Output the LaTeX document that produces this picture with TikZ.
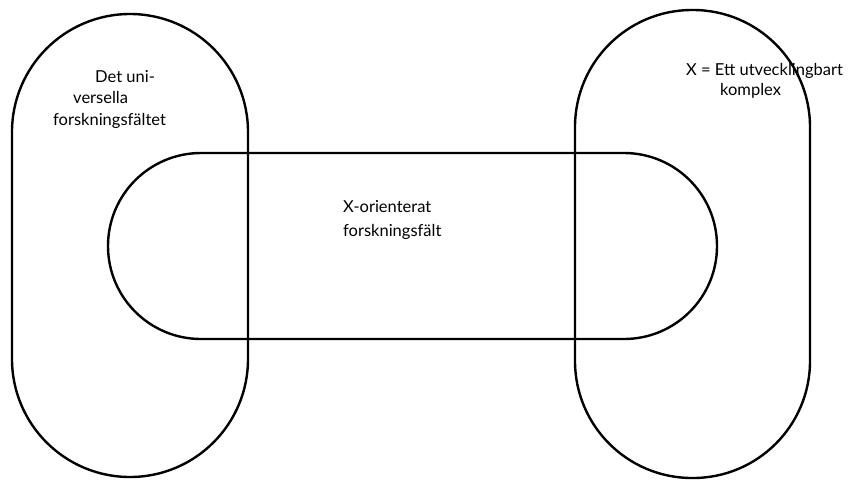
\documentclass[tikz,border=0pt]{standalone}
\usepackage{fontspec}
\setmainfont{Lato}
\usepackage{tikz}
\usetikzlibrary{positioning}

\begin{document}
\begin{tikzpicture}[x=1pt, y=-1pt,
    field/.style={line width=2.4pt, black},
    lbl/.style={font=\fontsize{16.5}{21.5}\selectfont, inner sep=0pt, align=left}]
  \useasboundingbox (0,0) rectangle (856,480);

  % --- universella faltet (vanster) ---
  \draw[field, rounded corners=118pt] (12,14) rectangle (248,477);
  \node[lbl, anchor=base west] (univ) at (53,125)
    {\hspace*{42pt}Det uni-\\ \hspace*{20pt}versella\\ forskningsfältet};

  % --- utvecklingbart komplex (hoger) ---
  \draw[field, rounded corners=117pt] (575,10) rectangle (810,478);
  \node[lbl, anchor=base west, font=\fontsize{16.5}{20}\selectfont] (komplex) at (686,95)
    {X = Ett utvecklingbart\\ \hspace*{34pt}komplex};

  % --- X-orienterat falt (mitten) ---
  \draw[field, rounded corners=93pt] (108,153) rectangle (717,339);
  \node[lbl, anchor=base west, font=\fontsize{16.5}{24}\selectfont] (xfalt) at (343,236)
    {X-orienterat\\ forskningsfält};
\end{tikzpicture}
\end{document}
